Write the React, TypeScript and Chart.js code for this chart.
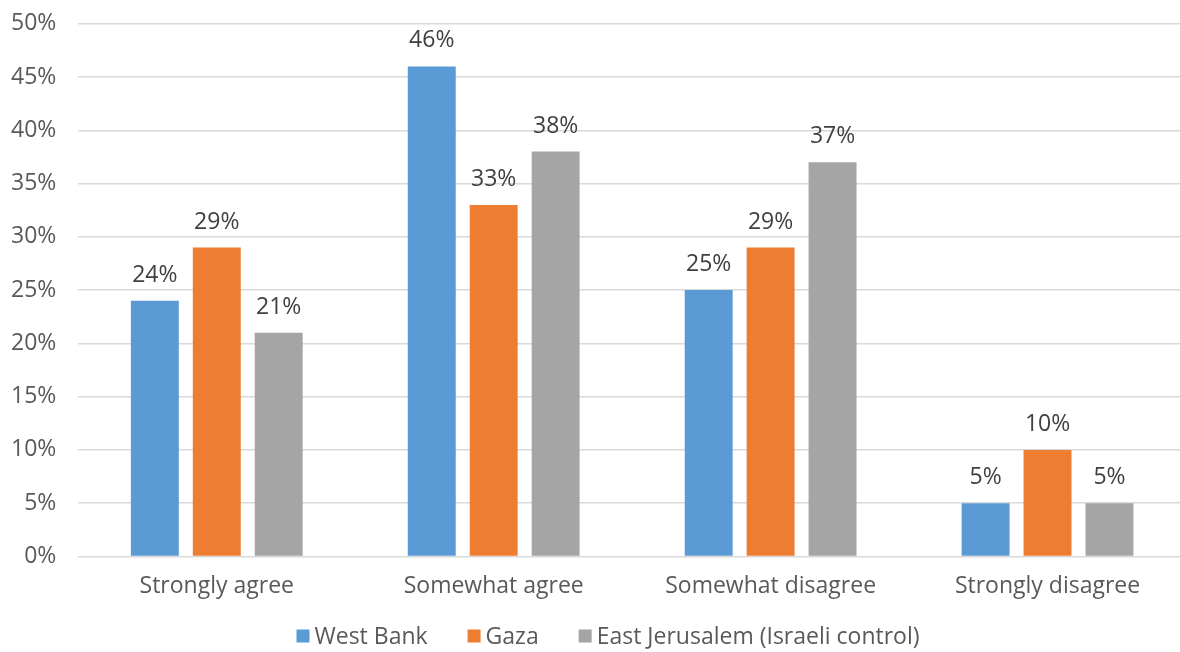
import React, { useEffect, useRef } from "react";
import { Chart, registerables } from "chart.js";

Chart.register(...registerables);

const categories = ["Strongly agree", "Somewhat agree", "Somewhat disagree", "Strongly disagree"];
const seriesNames = ["West Bank", "Gaza", "East Jerusalem (Israeli control)"];
const westBank = [24, 46, 25, 5];
const gaza = [29, 33, 29, 10];
const eastJerusalem = [21, 38, 37, 5];
const colors = ["#5B9BD5", "#ED7D31", "#A5A5A5"];
const yTicks = [0, 5, 10, 15, 20, 25, 30, 35, 40, 45, 50];

const FONT = "'Open Sans', Lato, sans-serif";
const FS = 23;

const dataLabels = {
  id: "dataLabels",
  afterDatasetsDraw(chart: any) {
    const ctx = chart.ctx;
    ctx.save();
    ctx.font = `${FS}px ${FONT}`;
    ctx.fillStyle = "#404040";
    ctx.textAlign = "center";
    ctx.textBaseline = "bottom";
    chart.data.datasets.forEach((ds: any, i: number) => {
      const meta = chart.getDatasetMeta(i);
      meta.data.forEach((bar: any, j: number) => {
        ctx.fillText(ds.data[j] + "%", bar.x, bar.y - 14);
      });
    });
    ctx.restore();
  },
};

const customLegend = {
  id: "customLegend",
  afterDraw(chart: any) {
    const ctx = chart.ctx;
    ctx.save();
    ctx.font = `${FS}px ${FONT}`;
    const box = 13;
    const gapText = 5;
    const gapItem = 40;
    const items = chart.data.datasets.map((ds: any) => ({
      label: ds.label,
      color: ds.backgroundColor,
      w: box + gapText + ctx.measureText(ds.label).width,
    }));
    const total = items.reduce((s: number, it: any) => s + it.w, 0) + gapItem * (items.length - 1);
    let x = 619 - total / 2;
    const y = 648;
    ctx.textBaseline = "middle";
    ctx.textAlign = "left";
    items.forEach((it: any) => {
      ctx.fillStyle = it.color;
      ctx.fillRect(x, y - box / 2, box, box);
      ctx.fillStyle = "#595959";
      ctx.fillText(it.label, x + box + gapText, y + 1);
      x += it.w + gapItem;
    });
    ctx.restore();
  },
};

export default function App() {
  const ref = useRef<HTMLCanvasElement>(null);
  useEffect(() => {
    if (!ref.current) return;
    const chart = new Chart(ref.current, {
      type: "bar",
      data: {
        labels: categories,
        datasets: [westBank, gaza, eastJerusalem].map((d, i) => ({
          label: seriesNames[i],
          data: d,
          backgroundColor: colors[i],
          barPercentage: 0.774,
          categoryPercentage: 0.671,
        })),
      },
      options: {
        animation: false,
        responsive: false,
        maintainAspectRatio: false,
        layout: { padding: { left: 0, top: 0, right: 0, bottom: 50 } },
        plugins: {
          tooltip: { enabled: false },
          legend: { display: false },
        },
        scales: {
          x: {
            grid: { display: false },
            border: { display: false },
            ticks: { font: { family: FONT, size: FS }, color: "#595959", padding: 8 },
          },
          y: {
            min: 0,
            max: 50,
            afterBuildTicks: (axis: any) => {
              axis.ticks = yTicks.map((v) => ({ value: v }));
            },
            grid: { color: "#d9d9d9", lineWidth: 1.5, drawTicks: false },
            border: { display: false },
            ticks: {
              font: { family: FONT, size: FS },
              color: "#595959",
              padding: 22,
              callback: (v: any) => v + "%",
            },
          },
        },
      },
      plugins: [dataLabels, customLegend],
    });
    return () => chart.destroy();
  }, []);
  return (
    <div style={{ position: "fixed", left: 0, top: 0, width: 1180, height: 652, overflow: "hidden", background: "#fff" }}>
      <canvas
        ref={ref}
        width={1197}
        height={670}
        style={{ display: "block", position: "absolute", left: -11, top: -12 }}
      />
    </div>
  );
}
